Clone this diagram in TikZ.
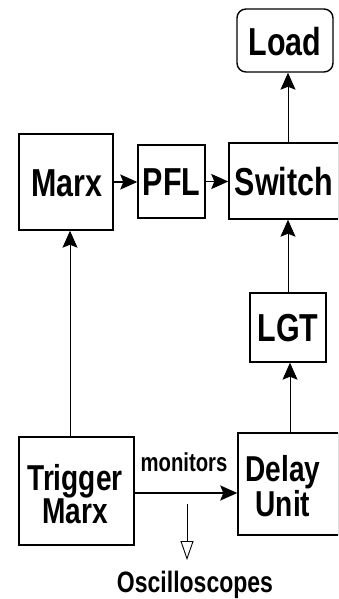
\documentclass[tikz,border=0pt]{standalone}
\usepackage{fontspec}
\setmainfont{Liberation Sans}[FakeStretch=0.78]
\usetikzlibrary{arrows.meta}
\begin{document}
\begin{tikzpicture}[x=1pt,y=-1pt,
  box/.style={draw, line width=1.4pt, inner sep=0pt},
  big/.style={font=\fontsize{39}{30}\selectfont\bfseries, align=center, inner sep=0pt},
  two/.style={font=\fontsize{36}{30}\selectfont\bfseries, align=center, inner sep=0pt},
  tip/.style={-{Stealth[length=17pt,width=15pt,inset=3pt]}},
  harr/.style={line width=1.8pt, tip},
  varr/.style={line width=0.9pt, tip},
  oarr/.style={line width=0.9pt, -{Triangle[open,length=19pt,width=13pt,line width=0.9pt]}}]
\useasboundingbox (0,0) rectangle (338,599);
\clip (0,0) rectangle (338,599);
\node[box, minimum width=94pt, minimum height=96pt] (marx) at (66,182) {};
\node[big] (marxt) at (67,183) {Marx};
\node[box, minimum width=67pt, minimum height=73pt] (pfl) at (171.5,181.5) {};
\node[big] (pflt) at (171.5,182) {PFL};
\node[box, minimum width=110pt, minimum height=76pt] (sw) at (284,181) {};
\node[big] (swt) at (284,182) {Switch};
\node[box, rounded corners=9pt, minimum width=96pt, minimum height=63pt] (load) at (285,40.5) {};
\node[big] (loadt) at (285,42) {Load};
\node[box, minimum width=76pt, minimum height=69pt] (lgt) at (288,327.5) {};
\node[big] (lgtt) at (288,328) {LGT};
\node[box, minimum width=101pt, minimum height=102pt] (delay) at (288.5,484) {};
\node[two] (delayt) at (283,486) {Delay\\Unit};
\node[box, minimum width=115pt, minimum height=108pt] (trig) at (76.5,491) {};
\node[two] (trigt) at (75,494) {Trigger\\Marx};
\node[font=\fontsize{26}{26}\selectfont\bfseries, inner sep=0pt] (mon) at (184,462) {monitors};
\node[font=\fontsize{29.5}{29.5}\selectfont\bfseries, inner sep=0pt] (osc) at (195,585) {Oscilloscopes};
\coordinate (c1) at (187,504);
\coordinate (c2) at (187,560);
\coordinate (colL) at (70,0);
\coordinate (colR) at (288,0);
\coordinate (colD) at (290,0);
\draw[harr] (marx.east) -- (pfl.west |- marx.east);
\draw[harr] (pfl.east) -- (sw.west |- pfl.east);
\draw[varr] (sw.north -| colR) -- (load.south -| colR);
\draw[varr] (lgt.north -| colR) -- (sw.south -| colR);
\draw[varr] (delay.north -| colD) -- (lgt.south -| colD);
\draw[varr] (trig.north -| colL) -- (marx.south -| colL);
\draw[harr] (trig.east |- 0,493) -- (delay.west |- 0,493);
\draw[oarr] (c1) -- (c2);
\end{tikzpicture}
\end{document}
